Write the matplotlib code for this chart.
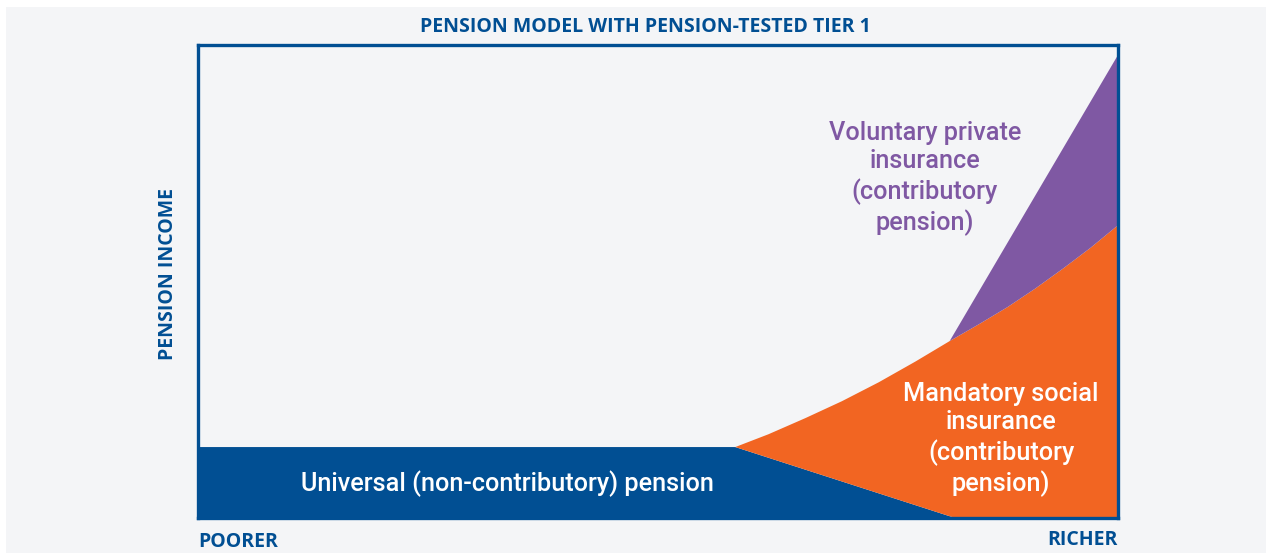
import matplotlib.pyplot as plt
from matplotlib.patches import Rectangle

plt.rcParams['font.family'] = ['Roboto', 'DejaVu Sans']

# colours
BLUE = '#014f93'
ORANGE = '#f26522'
PURPLE = '#7f58a3'
BG = '#f4f5f7'

# shape outline points (x = poorer -> richer, y = pension income)
universal_x = [0, 58.4, 82.3, 100, 100, 0]
universal_y = [15, 15, 0, 0, 0, 0]

# upper edge of the mandatory (orange) area
curve_x = [58.4, 62, 66, 70, 74, 78, 81.7, 85, 88, 91, 94, 97, 100]
curve_y = [15, 17.7, 21.1, 24.7, 28.7, 33.1, 37.4, 41.1, 44.6, 48.5, 52.7, 57.1, 61.9]
# lower edge of orange = edge of the blue wedge
wedge_x = [100, 82.3, 58.4]
wedge_y = [0, 0, 15]

# upper straight edge of the voluntary (purple) area
voluntary_x = [100, 81.7]
voluntary_y = [97.9, 37.4]

title = 'PENSION MODEL WITH PENSION-TESTED TIER 1'
y_label = 'PENSION INCOME'
x_left, x_right = 'POORER', 'RICHER'
lbl_universal = 'Universal (non-contributory) pension'
lbl_mandatory = 'Mandatory social\ninsurance\n(contributory\npension)'
lbl_voluntary = 'Voluntary private\ninsurance\n(contributory\npension)'

W, H = 1266, 553
fig = plt.figure(figsize=(W / 100, H / 100), dpi=100)
fig.patch.set_facecolor('white')
fig.patches.append(Rectangle((6 / W, 0), 1, 1 - 7 / H, transform=fig.transFigure,
                             facecolor=BG, edgecolor='none', zorder=-10))

ax = fig.add_axes([198 / W, 1 - 518 / H, 920 / W, 473 / H])
ax.set_facecolor(BG)
ax.set_xlim(0, 100)
ax.set_ylim(0, 100)
ax.set_xticks([])
ax.set_yticks([])
for s in ax.spines.values():
    s.set_color(BLUE)
    s.set_linewidth(2.4)
    s.set_zorder(5)

ax.fill(universal_x, universal_y, color=BLUE, lw=0, zorder=2)
ax.fill(curve_x + wedge_x, curve_y + wedge_y, color=ORANGE, lw=0, zorder=2)
i0 = curve_x.index(81.7)
ax.fill(curve_x[i0:] + voluntary_x, curve_y[i0:] + voluntary_y, color=PURPLE, lw=0, zorder=2)

# labels inside
tfont = dict(fontsize=18.2, fontweight='medium', ha='center', va='center',
             linespacing=1.23, zorder=4)
ax.text(33.6, 7.3, lbl_universal, color='white', **tfont)
ax.text(87.3, 16.6, lbl_mandatory, color='white', **tfont)
ax.text(79, 71.8, lbl_voluntary, color=PURPLE, **tfont)

# outer labels
hfont = dict(family=['Open Sans', 'DejaVu Sans'], fontweight='bold', color=BLUE, fontsize=14)
fig.text(645.5 / W, 1 - 26.5 / H, title, ha='center', va='center', **hfont)
fig.text(198 / W, 1 - 542 / H, x_left, ha='left', va='center', **hfont)
fig.text(1118 / W, 1 - 540 / H, x_right, ha='right', va='center', **hfont)
fig.text(168 / W, 1 - 274 / H, y_label, ha='center', va='center', rotation=90, **hfont)

fig.savefig('out.png', dpi=100, facecolor=fig.get_facecolor())
